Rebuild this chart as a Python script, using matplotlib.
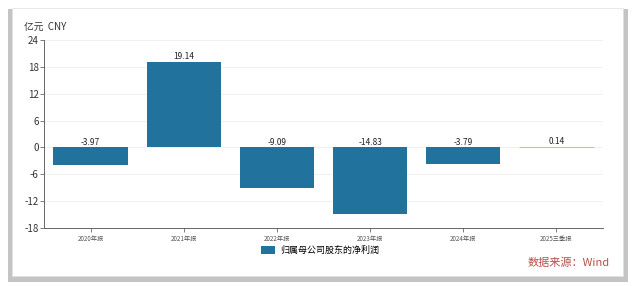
import matplotlib.pyplot as plt
from matplotlib.patches import Rectangle, FancyBboxPatch

plt.rcParams['font.family'] = ['Noto Sans CJK SC', 'DejaVu Sans']

categories = ["2020年报", "2021年报", "2022年报", "2023年报", "2024年报", "2025三季报"]
net_profit = [-3.97, 19.14, -9.09, -14.83, -3.79, 0.14]
bar_colors = ["#21729d", "#21729d", "#21729d", "#21729d", "#21729d", "#cfc27a"]
y_ticks = [-18, -12, -6, 0, 6, 12, 18, 24]

fig = plt.figure(figsize=(6.4, 2.86), dpi=100)

# card with soft shadow
fig.patches.append(Rectangle((0.013, 0.015), 0.968, 0.955, transform=fig.transFigure,
                             facecolor="#c4c4c4", edgecolor="none", zorder=-3))
fig.patches.append(Rectangle((0.019, 0.035), 0.955, 0.937, transform=fig.transFigure,
                             facecolor="white", edgecolor="#e0e0e0", linewidth=0.5, zorder=-2))

ax = fig.add_axes([0.069, 0.203, 0.873, 0.657])
ax.set_facecolor("none")
x = list(range(len(categories)))
bars = ax.bar(x, net_profit, width=0.8, color=bar_colors, zorder=3)
# the tiny positive bar is only a hairline in the original
bars[-1].set_edgecolor(bar_colors[-1])
bars[-1].set_linewidth(0.8)
for xi, v in zip(x, net_profit):
    ax.text(xi, max(v, 0) + 0.2, f"{v:.2f}", ha="center", va="bottom",
            fontsize=6, color="#222222", zorder=4)

ax.set_ylim(-18, 24)
ax.set_xlim(-0.5, len(categories) - 0.5)
ax.set_yticks(y_ticks)
ax.set_yticklabels([str(t) for t in y_ticks], fontsize=7, color="#333333")
ax.set_xticks(x)
ax.set_xticklabels(categories, fontsize=4.5, color="#555555")
ax.tick_params(axis="y", length=3, width=0.6, color="#666666", pad=1)
ax.tick_params(axis="x", length=3, width=0.6, color="#666666", pad=2)
ax.grid(axis="y", color="#eeeeee", linewidth=0.6, zorder=0)
for side in ["top", "right"]:
    ax.spines[side].set_visible(False)
for side in ["left", "bottom"]:
    ax.spines[side].set_color("#666666")
    ax.spines[side].set_linewidth(0.7)

fig.text(0.037, 0.895, "亿元  CNY", fontsize=7, color="#333333")

handle = FancyBboxPatch((0, 0), 1, 1, boxstyle="round,pad=0.1", facecolor="#21729d", edgecolor="none")
fig.legend([handle], ["归属母公司股东的净利润"], loc="center", bbox_to_anchor=(0.5, 0.125),
           frameon=False, fontsize=6.5, handlelength=1.6, handleheight=0.9, handletextpad=0.5)

fig.text(0.952, 0.08, "数据来源：Wind", fontsize=8, color="#b5504a", ha="right", va="center")

fig.savefig("out.png", dpi=100)
